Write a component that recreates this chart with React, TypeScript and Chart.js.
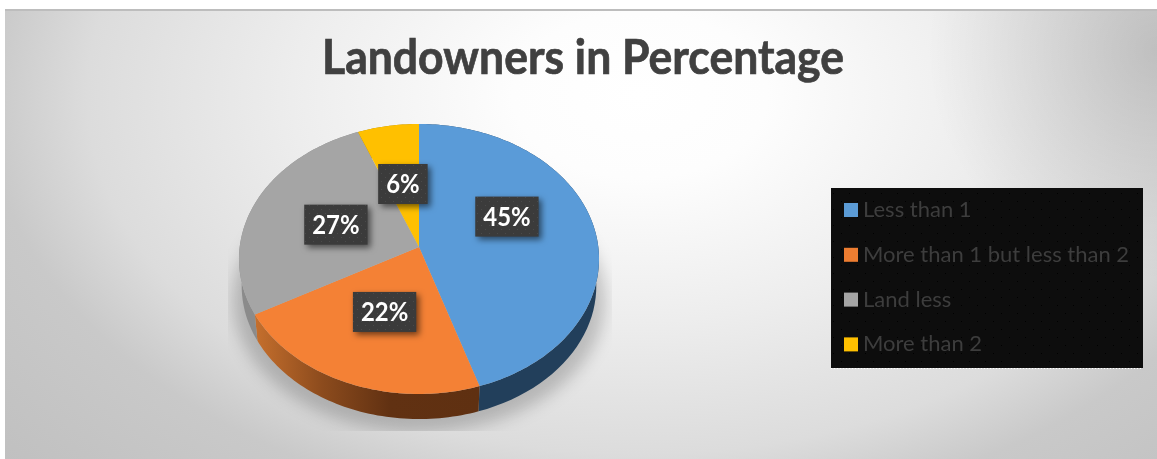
import React, { useEffect, useRef } from "react";
import { Chart, registerables } from "chart.js";

Chart.register(...registerables);

const categories = ["Less than 1", "More than 1 but less than 2", "Land less", "More than 2"];
const shares = [45, 22, 27, 6];
const faceColors = ["#5a9bd8", "#f48135", "#a5a5a5", "#ffc000"];
const legendColors = ["#5b9bd5", "#ed7d31", "#a5a5a5", "#ffc000"];
const titleText = "Landowners in Percentage";

// Perspective disc: the near edge of the pie is drawn larger than the far edge.
const disc = { x: 419, y: 247, rx: 179.3, ry: 133.9, k: -0.0889, depth: 27.5 };

function project(angle: number, r: number) {
  // Chart.js angles start on the +x axis and grow clockwise on screen.
  const u = r * Math.cos(angle);
  const v = r * Math.sin(angle);
  const d = 1 + disc.k * v;
  return { x: disc.x + (disc.rx * u) / d, y: disc.y + (disc.ry * v) / d };
}

function dotPattern(ctx: CanvasRenderingContext2D, base: string, dot: string, step: number) {
  const tile = document.createElement("canvas");
  tile.width = step;
  tile.height = step;
  const t = tile.getContext("2d")!;
  t.fillStyle = base;
  t.fillRect(0, 0, step, step);
  t.fillStyle = dot;
  t.fillRect(1, 1, 1, 1);
  t.fillRect(1 + step / 2, 1 + step / 2, 1, 1);
  return ctx.createPattern(tile, "repeat")!;
}

const panelPlugin = {
  id: "panel",
  beforeDraw(chart: any) {
    const { ctx, width, height } = chart;
    ctx.save();
    ctx.fillStyle = "#ffffff";
    ctx.fillRect(0, 0, width, height);

    // Elliptical highlight, wider than it is tall.
    ctx.save();
    ctx.beginPath();
    ctx.rect(5, 9, width - 5, height - 9);
    ctx.clip();
    ctx.translate(640, 95);
    ctx.scale(1, 0.65);
    const g = ctx.createRadialGradient(0, 0, 0, 0, 0, 850);
    g.addColorStop(0, "#ffffff");
    g.addColorStop(0.15, "#fdfdfd");
    g.addColorStop(0.41, "#ededed");
    g.addColorStop(0.65, "#dcdcdc");
    g.addColorStop(0.77, "#c9c9c9");
    g.addColorStop(1, "#c0c0c0");
    ctx.fillStyle = g;
    ctx.fillRect(-700, -200, 1400, 800);

    // The upper right corner falls off faster than the left side.
    ctx.restore();
    const edge = ctx.createRadialGradient(width, 50, 0, width, 50, 230);
    edge.addColorStop(0, "rgba(0,0,0,0.14)");
    edge.addColorStop(1, "rgba(0,0,0,0)");
    ctx.fillStyle = edge;
    ctx.fillRect(width - 230, 9, 230, height - 9);

    ctx.fillStyle = "#bdbdbd";
    ctx.fillRect(5, 9, width - 5, 2);
    ctx.restore();
  },
};

function traceArc(ctx: CanvasRenderingContext2D, a0: number, a1: number, scale: number) {
  const steps = Math.max(4, Math.ceil((a1 - a0) / 0.02));
  for (let i = 0; i <= steps; i++) {
    const a = a0 + ((a1 - a0) * i) / steps;
    const p = project(a, scale);
    ctx.lineTo(p.x, p.y);
  }
}

function wallFill(ctx: CanvasRenderingContext2D, index: number) {
  if (index === 1) {
    const g = ctx.createLinearGradient(255, 0, 480, 0);
    g.addColorStop(0, "#c56f2d");
    g.addColorStop(0.3, "#8c4b1d");
    g.addColorStop(0.6, "#613112");
    g.addColorStop(1, "#5f3011");
    return g;
  }
  return ["#223f5b", "", "#8b8b8b", "#a88000"][index];
}

const pie3dPlugin = {
  id: "pie3d",
  // The slice angles come from the pie controller; only the projection is custom.
  beforeDatasetsDraw(chart: any) {
    const { ctx } = chart;
    const arcs = chart.getDatasetMeta(0).data;
    ctx.save();

    // Soft shadow cast below the pie, cut off along the bottom.
    ctx.save();
    ctx.beginPath();
    ctx.rect(228, 200, 384, 231);
    ctx.clip();
    ctx.filter = "blur(8px)";
    ctx.fillStyle = "rgba(0,0,0,0.2)";
    ctx.beginPath();
    ctx.ellipse(disc.x, 300, 186, 132, 0, 0, Math.PI * 2);
    ctx.fill();
    ctx.restore();

    // Side walls.
    arcs.forEach((arc: any, i: number) => {
      ctx.beginPath();
      traceArc(ctx, arc.startAngle, arc.endAngle, 1);
      const steps = 60;
      for (let s = steps; s >= 0; s--) {
        const a = arc.startAngle + ((arc.endAngle - arc.startAngle) * s) / steps;
        const p = project(a, 0.985);
        ctx.lineTo(p.x, p.y + disc.depth);
      }
      ctx.closePath();
      ctx.fillStyle = wallFill(ctx, i);
      ctx.fill();
    });

    // Top faces.
    arcs.forEach((arc: any, i: number) => {
      ctx.beginPath();
      ctx.moveTo(disc.x, disc.y);
      traceArc(ctx, arc.startAngle, arc.endAngle, 1);
      ctx.closePath();
      ctx.fillStyle = faceColors[i];
      ctx.fill();
    });
    ctx.restore();
    return false;
  },
  afterDraw(chart: any) {
    const { ctx } = chart;
    const arcs = chart.getDatasetMeta(0).data;
    ctx.save();

    // Title, condensed to the width of the heading.
    ctx.save();
    ctx.font = "bold 47px Lato";
    ctx.fillStyle = "#404040";
    ctx.strokeStyle = "#404040";
    ctx.lineWidth = 0.7;
    ctx.textAlign = "left";
    ctx.textBaseline = "alphabetic";
    const natural = ctx.measureText(titleText).width;
    ctx.translate(322, 74);
    ctx.scale(522 / natural, 1);
    ctx.fillText(titleText, 0, 0);
    ctx.strokeText(titleText, 0, 0);
    ctx.restore();

    const boxFill = dotPattern(ctx, "#3b3b3b", "#4a4a4a", 8);
    ctx.textAlign = "center";
    ctx.textBaseline = "middle";
    ctx.font = "bold 26px Lato";
    const narrow = 0.92;
    arcs.forEach((arc: any, i: number) => {
      const mid = (arc.startAngle + arc.endAngle) / 2;
      const c = project(mid, 0.5);
      // The largest slice carries its label a little higher than its centroid.
      const cy = i === 0 ? c.y - 20 : c.y;
      const text = `${shares[i]}%`;
      const w = ctx.measureText(text).width * narrow + 16;
      const h = 40;
      ctx.save();
      ctx.shadowColor = "rgba(0,0,0,0.55)";
      ctx.shadowBlur = 6;
      ctx.shadowOffsetX = 3;
      ctx.shadowOffsetY = 3;
      ctx.fillStyle = boxFill;
      ctx.fillRect(c.x - w / 2, cy - h / 2, w, h);
      ctx.restore();
      ctx.save();
      ctx.translate(c.x, cy + 1);
      ctx.scale(narrow, 1);
      ctx.fillStyle = "#ffffff";
      ctx.fillText(text, 0, 0);
      ctx.restore();
    });

    // Legend panel.
    const lx = 831;
    const ly = 188;
    ctx.fillStyle = dotPattern(ctx, "#0d0d0d", "#000000", 16);
    ctx.fillRect(lx, ly, 312, 180);
    ctx.fillStyle = "#ffffff";
    for (let x = lx; x < lx + 312; x += 3) ctx.fillRect(x, ly + 180, 1, 1);
    ctx.textAlign = "left";
    ctx.font = "22px Lato";
    categories.forEach((name, i) => {
      const y = ly + 22 + i * 44.8;
      ctx.fillStyle = legendColors[i];
      ctx.fillRect(844, y - 7, 14, 14);
      ctx.fillStyle = "#3d3d3d";
      ctx.fillText(name, 863, y);
    });
    ctx.restore();
  },
};

export default function App() {
  const ref = useRef<HTMLCanvasElement>(null);
  useEffect(() => {
    const chart = new Chart(ref.current!, {
      type: "pie",
      data: {
        labels: categories,
        datasets: [{ data: shares, backgroundColor: faceColors, borderWidth: 0 }],
      },
      options: {
        responsive: false,
        animation: false,
        plugins: {
          legend: { display: false },
          tooltip: { enabled: false },
          title: { display: false },
        },
      },
      plugins: [panelPlugin, pie3dPlugin],
    } as any);
    return () => chart.destroy();
  }, []);
  return (
    <canvas
      ref={ref}
      width={1157}
      height={459}
      style={{ position: "fixed", left: 0, top: 0, width: 1157, height: 459 }}
    />
  );
}
